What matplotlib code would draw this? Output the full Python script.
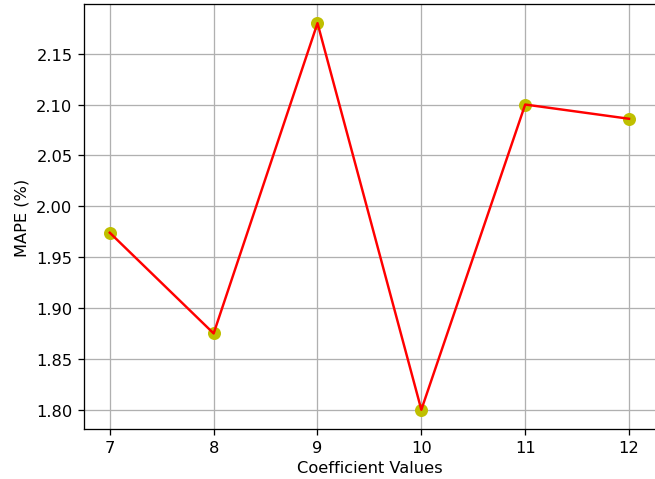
import matplotlib
matplotlib.use("Agg")
import matplotlib.pyplot as plt

# coefficient values and the resulting MAPE
coeffs = [7, 8, 9, 10, 11, 12]
mape = [1.974, 1.875, 2.180, 1.800, 2.100, 2.086]

# the reference looks like a ~117 dpi render, so draw at that scale
dpi = 117
fig = plt.figure(figsize=(655 / dpi, 480 / dpi), dpi=dpi)
ax = fig.add_axes([0.128, 0.104, 0.872, 0.886])

ax.plot(coeffs, mape, 'yo', markersize=7)
ax.plot(coeffs, mape, 'r-', linewidth=1.5)
ax.grid(True)
ax.spines['right'].set_visible(False)
ax.set_xlabel('Coefficient Values', labelpad=3)
ax.set_ylabel('MAPE (%)')

fig.savefig('out.png', dpi=dpi)
